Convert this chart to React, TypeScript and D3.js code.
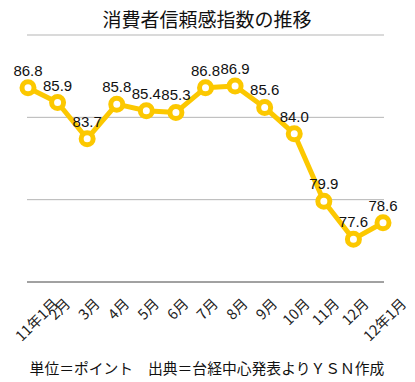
import React from "react";
import * as d3 from "d3";

const categories = ["11年1月", "2月", "3月", "4月", "5月", "6月", "7月", "8月", "9月", "10月", "11月", "12月", "12年1月"];
const values = [86.8, 85.9, 83.7, 85.8, 85.4, 85.3, 86.8, 86.9, 85.6, 84.0, 79.9, 77.6, 78.6];
const yTicks = [75, 80, 85, 90];
const title = "消費者信頼感指数の推移";
const footer = "単位＝ポイント　出典＝台経中心発表よりＹＳＮ作成";

const W = 415;
const H = 382;
const FONT = "'Liberation Sans', Arial, 'Noto Sans CJK JP', sans-serif";
const JFONT = "'Noto Sans CJK JP', 'Liberation Sans', sans-serif";

function textWidth(s: string, f: number) {
  let w = 0;
  for (const ch of s) w += /[0-9]/.test(ch) ? 0.553 : 1;
  return w * f;
}

export default function App() {
  const x = d3.scalePoint<string>().domain(categories).range([28, 383]);
  const y = d3.scaleLinear().domain([75, 90]).range([282, 35]);
  const line = d3
    .line<number>()
    .x((_, i) => x(categories[i]) as number)
    .y((d) => y(d));
  const color = "#FCC800";
  const tf = 14.5;
  const s = Math.SQRT1_2;

  return (
    <svg width={W} height={H} style={{ position: "absolute", left: 0, top: 0, background: "#fff" }}>
      <text x={207} y={27} textAnchor="middle" fontFamily={JFONT} fontSize={19} fill="#111">
        {title}
      </text>
      {yTicks.map((t) => (
        <line
          key={t}
          x1={27}
          x2={384}
          y1={y(t)}
          y2={y(t)}
          stroke={t === 75 ? "#444" : "#b5b5b5"}
          strokeWidth={1}
        />
      ))}
      <path d={line(values) || ""} fill="none" stroke={color} strokeWidth={5} strokeLinejoin="round" />
      {values.map((v, i) => (
        <circle key={i} cx={x(categories[i])} cy={y(v)} r={6} fill="#fff" stroke={color} strokeWidth={5} />
      ))}
      {values.map((v, i) => (
        <text
          key={"l" + i}
          x={x(categories[i])}
          y={y(v) - 12}
          textAnchor="middle"
          fontFamily={FONT}
          fontSize={15}
          fill="#111"
        >
          {v.toFixed(1)}
        </text>
      ))}
      {categories.map((c, i) => {
        const w = textWidth(c, tf);
        const cx = (x(c) as number) + 2 + (i === 0 ? 7 : 0);
        const cy = 296 + ((w + tf) * s) / 2;
        return (
          <text
            key={"c" + i}
            transform={`translate(${cx},${cy}) rotate(-45)`}
            textAnchor="middle"
            dy="0.35em"
            fontFamily={JFONT}
            fontSize={tf}
            fill="#222"
          >
            {c}
          </text>
        );
      })}
      <text x={207} y={374} textAnchor="middle" fontFamily={JFONT} fontSize={14.8} fill="#111">
        {footer}
      </text>
    </svg>
  );
}
